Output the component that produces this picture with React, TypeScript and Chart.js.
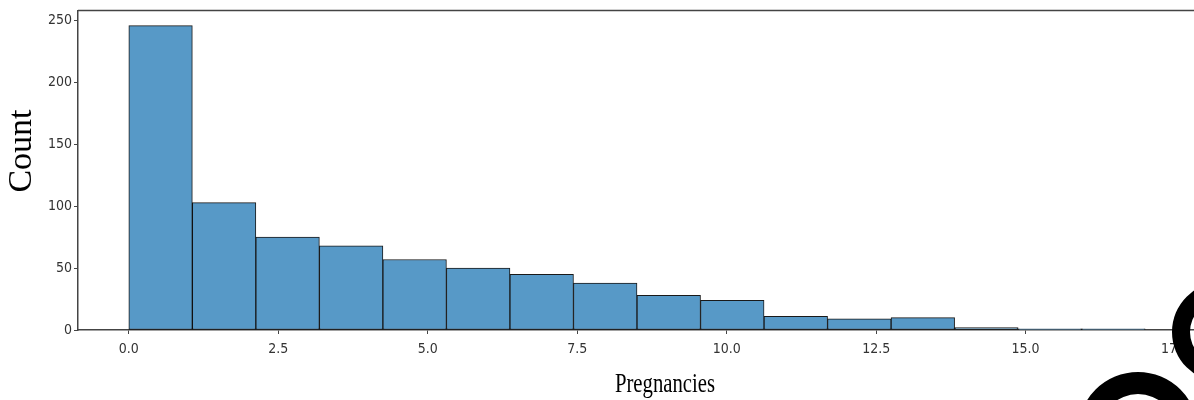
import React, { useEffect, useRef } from "react";
import { Chart, registerables } from "chart.js";

Chart.register(...registerables);

const binStarts = [0, 1.0625, 2.125, 3.1875, 4.25, 5.3125, 6.375, 7.4375, 8.5, 9.5625, 10.625, 11.6875, 12.75, 13.8125, 14.875, 15.9375];
const binWidth = 1.0625;
const counts = [246, 103, 75, 68, 57, 50, 45, 38, 28, 24, 11, 9, 10, 2, 1, 1];
const xTicks = [0, 2.5, 5, 7.5, 10, 12.5, 15, 17.5];
const yTicks = [0, 50, 100, 150, 200, 250];
const xTitle = "Pregnancies";
const yTitle = "Count";

const tickFont = { family: "'DejaVu Sans Condensed', 'Liberation Sans Narrow', sans-serif", size: 14 };

const decorPlugin = {
  id: "decor",
  afterDraw(chart: any) {
    const { ctx, chartArea } = chart;
    ctx.save();
    // top spine
    ctx.strokeStyle = "#444";
    ctx.lineWidth = 1.5;
    ctx.beginPath();
    ctx.moveTo(chartArea.left, chartArea.top);
    ctx.lineTo(chartArea.right, chartArea.top);
    ctx.stroke();
    // axis titles
    ctx.fillStyle = "#000";
    ctx.save();
    ctx.translate(22, 151);
    ctx.rotate(-Math.PI / 2);
    ctx.font = "34px 'Liberation Serif', serif";
    ctx.textAlign = "center";
    ctx.textBaseline = "middle";
    ctx.fillText(yTitle, 0, 0);
    ctx.restore();
    ctx.save();
    ctx.translate(665, 392);
    ctx.scale(0.74, 1);
    ctx.font = "28px 'Liberation Serif', serif";
    ctx.textAlign = "center";
    ctx.textBaseline = "alphabetic";
    ctx.fillText(xTitle, 0, 0);
    ctx.restore();
    // overlay rings
    ctx.fillStyle = "#000";
    ctx.beginPath();
    ctx.arc(1222, 332, 50, 0, Math.PI * 2);
    ctx.arc(1222, 332, 32, 0, Math.PI * 2, true);
    ctx.fill("evenodd");
    ctx.beginPath();
    ctx.arc(1138, 432, 60, 0, Math.PI * 2);
    ctx.arc(1138, 432, 38, 0, Math.PI * 2, true);
    ctx.fill("evenodd");
    ctx.restore();
  },
};

export default function App() {
  const ref = useRef<HTMLCanvasElement | null>(null);
  useEffect(() => {
    document.body.style.margin = "0";
    const canvas = ref.current;
    if (!canvas) return;
    const data = binStarts.map((s, i) => ({ x: s + binWidth / 2, y: counts[i] }));
    const chart = new Chart(canvas, {
      type: "bar",
      data: {
        datasets: [
          {
            data: data as any,
            backgroundColor: "#5799c7",
            borderColor: "rgba(0,0,0,0.9)",
            borderWidth: 1,
            borderSkipped: false,
            barPercentage: 1,
            categoryPercentage: 1,
            grouped: false,
          } as any,
        ],
      },
      options: {
        animation: false,
        responsive: false,
        maintainAspectRatio: false,
        layout: { padding: { left: 0, top: 4, right: 4, bottom: 0 } },
        plugins: { legend: { display: false }, tooltip: { enabled: false } },
        scales: {
          x: {
            type: "linear",
            offset: false,
            min: -0.85,
            max: 17.85,
            afterBuildTicks: (scale: any) => {
              scale.ticks = xTicks.map((v) => ({ value: v }));
            },
            afterFit: (scale: any) => {
              scale.height = 70;
            },
            ticks: {
              font: tickFont,
              color: "#333",
              padding: 7,
              maxRotation: 0,
              autoSkip: false,
              callback: (v: any) => Number(v).toFixed(1),
            },
            grid: { offset: false, drawOnChartArea: false, drawTicks: true, tickLength: 4, color: "#444", lineWidth: 1 },
            border: { display: true, color: "#444", width: 1.5 },
          },
          y: {
            type: "linear",
            min: 0,
            max: 258.3,
            afterBuildTicks: (scale: any) => {
              scale.ticks = yTicks.map((v) => ({ value: v }));
            },
            afterFit: (scale: any) => {
              scale.width = 78;
            },
            ticks: { font: tickFont, color: "#333", padding: 2, autoSkip: false },
            grid: { drawOnChartArea: false, drawTicks: true, tickLength: 4, color: "#444", lineWidth: 1 },
            border: { display: true, color: "#444", width: 1.5 },
          },
        },
      },
      plugins: [decorPlugin],
    });
    return () => chart.destroy();
  }, []);
  return (
    <div style={{ width: 1194, height: 400, overflow: "hidden", position: "relative", background: "#fff" }}>
      <canvas ref={ref} width={1200} height={400} style={{ display: "block", width: 1200, height: 400 }} />
    </div>
  );
}
